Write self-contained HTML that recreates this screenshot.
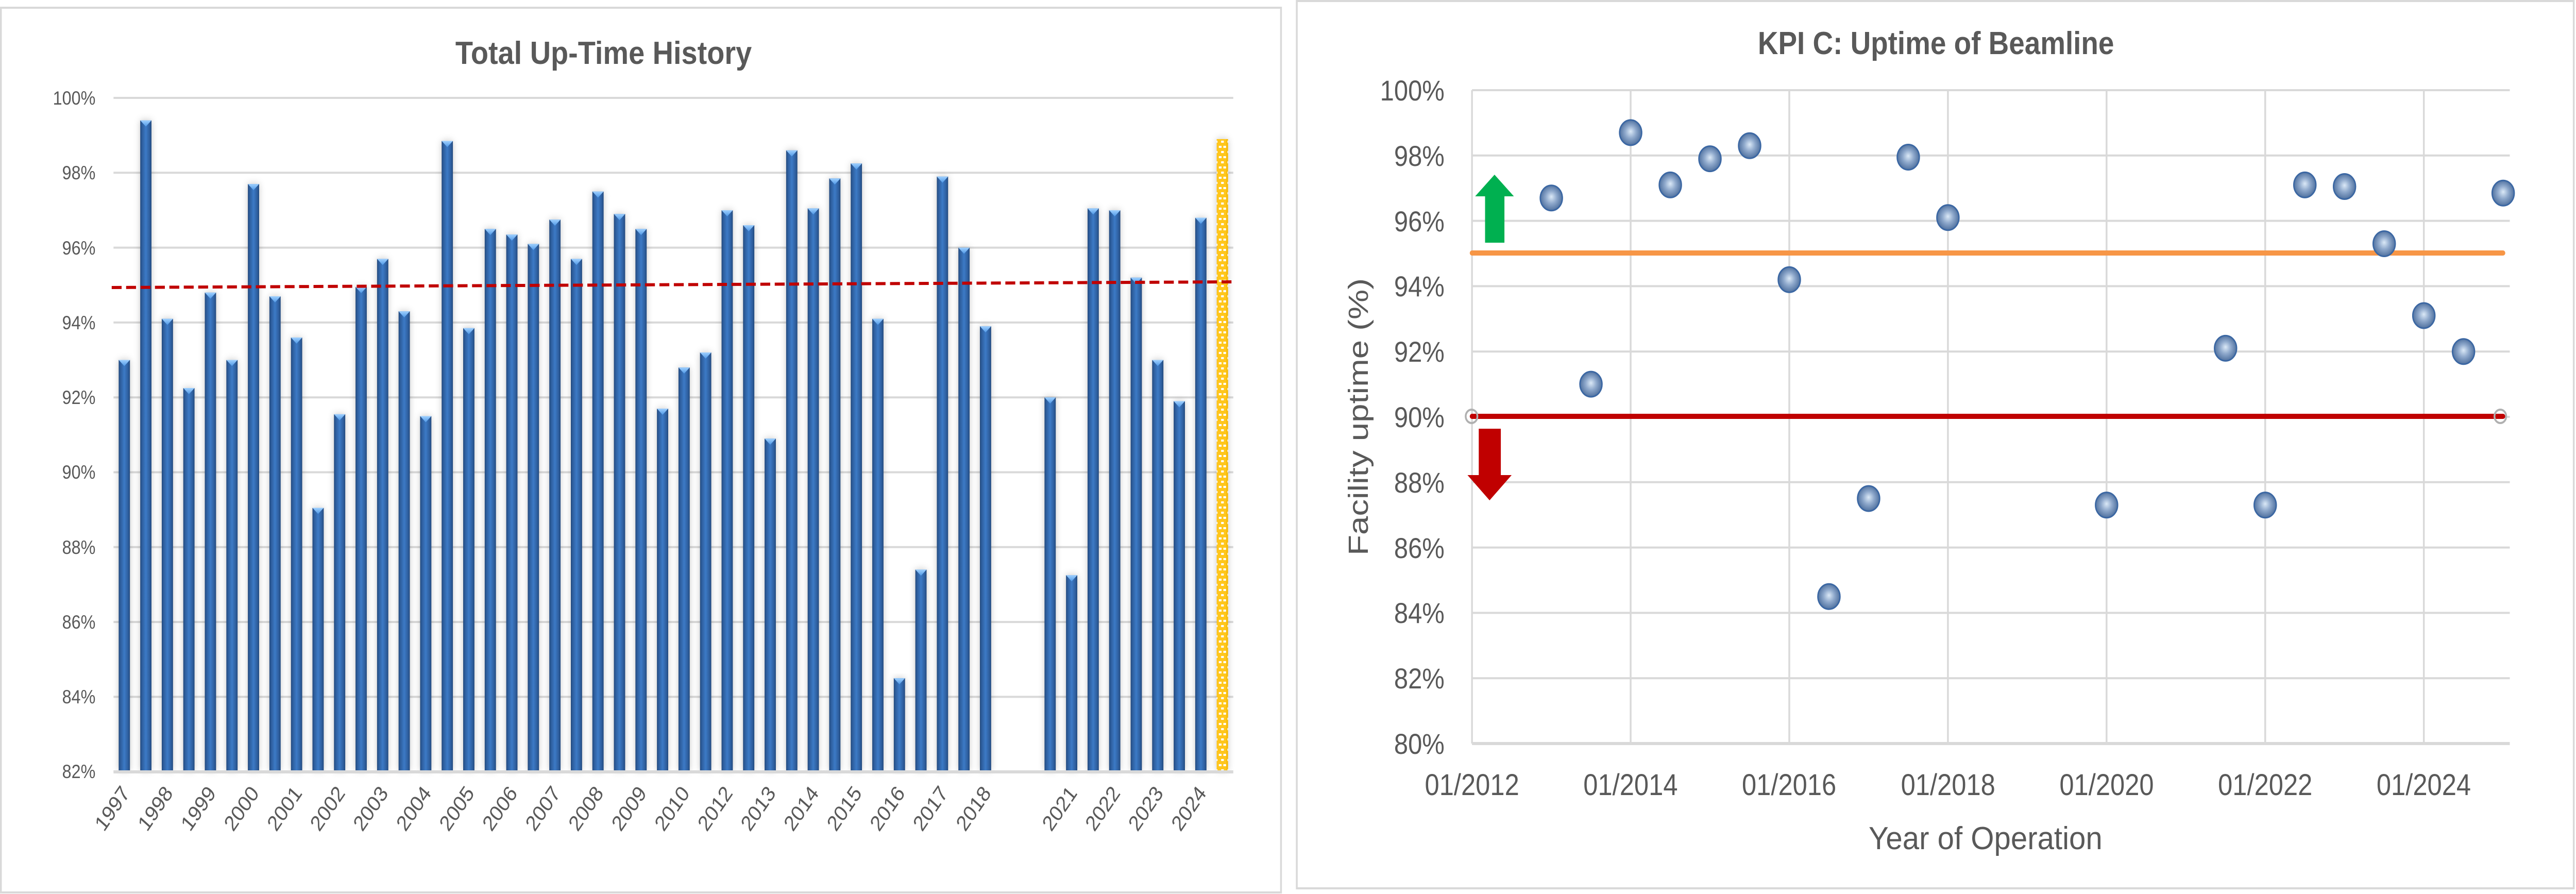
<!DOCTYPE html>
<html><head><meta charset="utf-8"><style>
html,body{margin:0;padding:0;background:#fff;width:100%;height:100%;overflow:hidden;}
svg{display:block;width:100vw;height:100vh;}
text{font-family:"Liberation Sans",sans-serif;fill:#595959;}
</style></head><body>
<svg id="s" viewBox="0 0 5719 1735" preserveAspectRatio="none" xmlns="http://www.w3.org/2000/svg">
<defs>
<linearGradient id="bg" x1="0" x2="1" y1="0" y2="0">
<stop offset="0" stop-color="#24497c"/><stop offset="0.15" stop-color="#2d5d9c"/><stop offset="0.5" stop-color="#3c7ac6"/><stop offset="0.85" stop-color="#2d5d9c"/><stop offset="1" stop-color="#24497c"/>
</linearGradient>
<linearGradient id="cap" x1="0" x2="0" y1="0" y2="1"><stop offset="0" stop-color="#9fd0ff"/><stop offset="1" stop-color="#4f98e6"/></linearGradient>
<pattern id="yp" width="25" height="20" patternUnits="userSpaceOnUse">
<rect width="25" height="20" fill="#f5b800"/>
<rect x="2" y="0" width="21" height="20" fill="#ffc61a"/>
<rect x="6" y="3" width="6" height="4" fill="#fff"/><rect x="16" y="3" width="6" height="4" fill="#fff"/>
<rect x="0" y="13" width="3" height="4" fill="#fff"/><rect x="11" y="13" width="6" height="4" fill="#fff"/>
</pattern>
<radialGradient id="mk" cx="0.5" cy="0.5" r="0.55" fx="0.5" fy="0.45">
<stop offset="0" stop-color="#dbe9f7"/><stop offset="0.45" stop-color="#8fa9cc"/><stop offset="0.85" stop-color="#5a7aa6"/><stop offset="1" stop-color="#3d5e8c"/>
</radialGradient>
<filter id="sh" x="-60%" y="-5%" width="220%" height="110%"><feDropShadow dx="0" dy="0" stdDeviation="7" flood-color="#000" flood-opacity="0.22"/></filter>
</defs>
<rect x="2" y="15" width="2842" height="1717" fill="#fff" stroke="#d9d9d9" stroke-width="4"/>
<rect x="2879" y="2" width="2835" height="1722" fill="#fff" stroke="#d9d9d9" stroke-width="4"/>

<g id="lg" stroke="#d9d9d9" stroke-width="4"></g>
<g id="bars"></g>
<line x1="252" y1="1498" x2="2738" y2="1498" stroke="#d9d9d9" stroke-width="6"/>
<line x1="248" y1="558" x2="2738" y2="547" stroke="#c00000" stroke-width="6" stroke-dasharray="22,10"/>
<text x="1340" y="124" font-size="62" font-weight="bold" text-anchor="middle" textLength="658" lengthAdjust="spacingAndGlyphs">Total Up-Time History</text>
<g font-size="37" text-anchor="end">
<text x="212" y="203">100%</text><text x="212" y="348">98%</text><text x="212" y="494">96%</text><text x="212" y="639">94%</text><text x="212" y="784">92%</text><text x="212" y="929">90%</text><text x="212" y="1075">88%</text><text x="212" y="1220">86%</text><text x="212" y="1365">84%</text><text x="212" y="1510">82%</text>
</g>
<g font-size="42" text-anchor="end">
<text transform="translate(290,1540) rotate(-52)" textLength="96" lengthAdjust="spacingAndGlyphs">1997</text>
<text transform="translate(385.6,1540) rotate(-52)" textLength="96" lengthAdjust="spacingAndGlyphs">1998</text>
<text transform="translate(481.2,1540) rotate(-52)" textLength="96" lengthAdjust="spacingAndGlyphs">1999</text>
<text transform="translate(576.8,1540) rotate(-52)" textLength="96" lengthAdjust="spacingAndGlyphs">2000</text>
<text transform="translate(672.4,1540) rotate(-52)" textLength="96" lengthAdjust="spacingAndGlyphs">2001</text>
<text transform="translate(768,1540) rotate(-52)" textLength="96" lengthAdjust="spacingAndGlyphs">2002</text>
<text transform="translate(863.6,1540) rotate(-52)" textLength="96" lengthAdjust="spacingAndGlyphs">2003</text>
<text transform="translate(959.2,1540) rotate(-52)" textLength="96" lengthAdjust="spacingAndGlyphs">2004</text>
<text transform="translate(1054.8,1540) rotate(-52)" textLength="96" lengthAdjust="spacingAndGlyphs">2005</text>
<text transform="translate(1150.4,1540) rotate(-52)" textLength="96" lengthAdjust="spacingAndGlyphs">2006</text>
<text transform="translate(1246,1540) rotate(-52)" textLength="96" lengthAdjust="spacingAndGlyphs">2007</text>
<text transform="translate(1341.6,1540) rotate(-52)" textLength="96" lengthAdjust="spacingAndGlyphs">2008</text>
<text transform="translate(1437.2,1540) rotate(-52)" textLength="96" lengthAdjust="spacingAndGlyphs">2009</text>
<text transform="translate(1532.8,1540) rotate(-52)" textLength="96" lengthAdjust="spacingAndGlyphs">2010</text>
<text transform="translate(1628.4,1540) rotate(-52)" textLength="96" lengthAdjust="spacingAndGlyphs">2012</text>
<text transform="translate(1724,1540) rotate(-52)" textLength="96" lengthAdjust="spacingAndGlyphs">2013</text>
<text transform="translate(1819.6,1540) rotate(-52)" textLength="96" lengthAdjust="spacingAndGlyphs">2014</text>
<text transform="translate(1915.2,1540) rotate(-52)" textLength="96" lengthAdjust="spacingAndGlyphs">2015</text>
<text transform="translate(2010.8,1540) rotate(-52)" textLength="96" lengthAdjust="spacingAndGlyphs">2016</text>
<text transform="translate(2106.4,1540) rotate(-52)" textLength="96" lengthAdjust="spacingAndGlyphs">2017</text>
<text transform="translate(2202,1540) rotate(-52)" textLength="96" lengthAdjust="spacingAndGlyphs">2018</text>
<text transform="translate(2393.2,1540) rotate(-52)" textLength="96" lengthAdjust="spacingAndGlyphs">2021</text>
<text transform="translate(2488.8,1540) rotate(-52)" textLength="96" lengthAdjust="spacingAndGlyphs">2022</text>
<text transform="translate(2584.4,1540) rotate(-52)" textLength="96" lengthAdjust="spacingAndGlyphs">2023</text>
<text transform="translate(2680,1540) rotate(-52)" textLength="96" lengthAdjust="spacingAndGlyphs">2024</text>
</g>

<g id="rg" stroke="#d9d9d9" stroke-width="4"></g>
<line x1="3268" y1="1443" x2="5572" y2="1443" stroke="#d9d9d9" stroke-width="6"/>
<line x1="3268" y1="491" x2="5557" y2="491" stroke="#f79646" stroke-width="10" stroke-linecap="round"/>
<line x1="3268" y1="808" x2="5557" y2="808" stroke="#c00000" stroke-width="10" stroke-linecap="round"/>
<circle cx="3267" cy="808" r="13" fill="none" stroke="#b0b0b0" stroke-width="4"/>
<circle cx="5551" cy="808" r="13" fill="none" stroke="#b0b0b0" stroke-width="4"/>
<polygon points="3318,339 3361,381 3340,381 3340,471 3297,471 3297,381 3275,381" fill="#00b050"/>
<polygon points="3283,832 3332,832 3332,922 3356,922 3307,971 3258,922 3283,922" fill="#c00000"/>
<g id="pts"></g>
<text x="4298" y="105" font-size="62" font-weight="bold" text-anchor="middle" textLength="791" lengthAdjust="spacingAndGlyphs">KPI C: Uptime of Beamline</text>
<g font-size="56" text-anchor="end">
<text x="3207" y="195">100%</text><text x="3207" y="322">98%</text><text x="3207" y="449">96%</text><text x="3207" y="575">94%</text><text x="3207" y="702">92%</text><text x="3207" y="829">90%</text><text x="3207" y="956">88%</text><text x="3207" y="1083">86%</text><text x="3207" y="1209">84%</text><text x="3207" y="1336">82%</text><text x="3207" y="1463">80%</text>
</g>
<g font-size="58" text-anchor="middle">
<text x="3268" y="1543">01/2012</text><text x="3620" y="1543">01/2014</text><text x="3972" y="1543">01/2016</text><text x="4325" y="1543">01/2018</text><text x="4677" y="1543">01/2020</text><text x="5029" y="1543">01/2022</text><text x="5381" y="1543">01/2024</text>
</g>
<text x="4408" y="1648" font-size="62" text-anchor="middle" textLength="519" lengthAdjust="spacingAndGlyphs">Year of Operation</text>
<text transform="translate(3037,809) rotate(-90)" font-size="62" text-anchor="middle" textLength="538" lengthAdjust="spacingAndGlyphs">Facility uptime (%)</text>
</svg>
<script>
var NS="http://www.w3.org/2000/svg";
function el(p,t,a){var e=document.createElementNS(NS,t);for(var k in a)e.setAttribute(k,a[k]);p.appendChild(e);return e;}
var lg=document.getElementById('lg');
for(var i=0;i<9;i++){var y=190+i*145.3;el(lg,'line',{x1:252,y1:y,x2:2738,y2:y});}
var bars=document.getElementById('bars');
var v=[93.0,99.4,94.1,92.25,94.8,93.0,97.7,94.7,93.6,89.05,91.55,94.95,95.7,94.3,91.5,98.85,93.85,96.5,96.35,96.1,96.75,95.7,97.5,96.9,96.5,91.7,92.8,93.2,97.0,96.6,90.9,98.6,97.05,97.85,98.25,94.1,84.5,87.4,97.9,96.0,93.9];
var v2=[92.0,87.25,97.05,97.0,95.2,93.0,91.9,96.8];
function Y(val){return 190+(100-val)*72.65;}
function bar(s,val,yel){var cx=276+47.8*s,x=cx-12.5,y=Y(val),h=1495-y;
 var g=el(bars,'g',{filter:'url(#sh)'});
 el(g,'rect',{x:x,y:y,width:25,height:h,fill:yel?'url(#yp)':'url(#bg)'});
 if(!yel)el(g,'polygon',{points:x+','+y+' '+(x+25)+','+y+' '+cx+','+(y+12),fill:'url(#cap)'});}
for(var i=0;i<v.length;i++)bar(i,v[i],false);
for(var i=0;i<v2.length;i++)bar(43+i,v2[i],false);
bar(51,98.9,true);
var rg=document.getElementById('rg');
for(var i=0;i<10;i++){var y=175+i*126.8;el(rg,'line',{x1:3268,y1:y,x2:5572,y2:y});}
for(var i=0;i<7;i++){var x=3268+i*352.2;el(rg,'line',{x1:x,y1:175,x2:x,y2:1443});}
var pts=document.getElementById('pts');
var P=[[2013,96.7],[2013.5,91],[2014,98.7],[2014.5,97.1],[2015,97.9],[2015.5,98.3],[2016,94.2],[2016.5,84.5],[2017,87.5],[2017.5,97.95],[2018,96.1],[2020,87.3],[2021.5,92.1],[2022,87.3],[2022.5,97.1],[2023,97.05],[2023.5,95.3],[2024,93.1],[2024.5,92.0],[2025,96.85]];
P.forEach(function(p){var x=3268+(p[0]-2012)*176.1,y=175+(100-p[1])*63.4;
 el(pts,'circle',{cx:x,cy:y,r:24.5,fill:'url(#mk)',stroke:'#3b67a3','stroke-width':3});});
</script>
</body></html>
